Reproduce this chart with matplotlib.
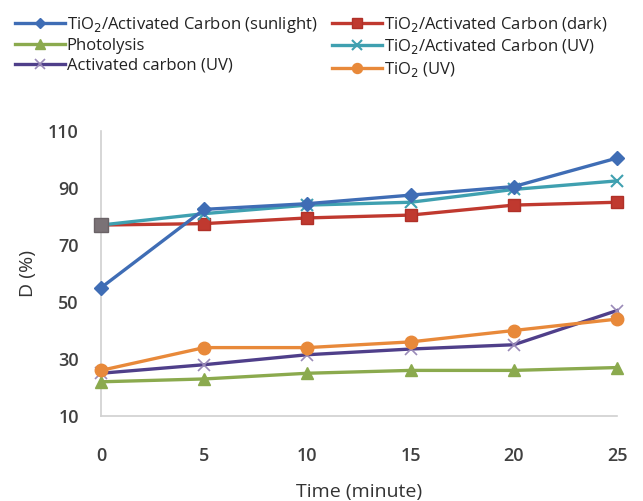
import matplotlib
matplotlib.use("Agg")
import matplotlib.pyplot as plt

plt.rcParams['font.family'] = ['Open Sans', 'DejaVu Sans']

time = [0, 5, 10, 15, 20, 25]
sunlight = [55, 82.5, 84.5, 87.5, 90.5, 100.5]
dark = [77, 77.5, 79.5, 80.5, 84, 85]
photolysis = [22, 23, 25, 26, 26, 27]
tio2_ac_uv = [77, 81, 84, 85, 89.5, 92.5]
ac_uv = [25, 28, 31.5, 33.5, 35, 47]
tio2_uv = [26, 34, 34, 36, 40, 44]

yticks = [10, 30, 50, 70, 90, 110]
xticks = [0, 5, 10, 15, 20, 25]

fig = plt.figure(figsize=(6.43, 5.01), dpi=100)
ax = fig.add_axes([101/643, 1-416/501, (617-101)/643, (416-131)/501])

lw = 2.4
h_sun, = ax.plot(time, sunlight, color='#3F6DB5', marker='D', ms=7, lw=lw, clip_on=False, zorder=6,
                 label='TiO$_2$/Activated Carbon (sunlight)')
h_dark, = ax.plot(time, dark, color='#C0392F', marker='s', ms=9, lw=lw, clip_on=False, zorder=4,
                  mec='#B03028', label='TiO$_2$/Activated Carbon (dark)')
ax.plot(time[:1], dark[:1], ls='none', marker='s', ms=10, color='#7A7276', mec='#6A6266', clip_on=False, zorder=7)
h_pho, = ax.plot(time, photolysis, color='#8BAA4E', marker='^', ms=9, lw=lw, clip_on=False, zorder=4,
                 label='Photolysis')
h_tuv, = ax.plot(time, tio2_ac_uv, color='#3FA0B0', marker='x', ms=9, mew=1.5, lw=lw, clip_on=False, zorder=5,
                 label='TiO$_2$/Activated Carbon (UV)')
h_ac, = ax.plot(time, ac_uv, color='#4F3F8A', marker='x', ms=9, mew=1.2, mec='#9A8AB8', lw=lw, clip_on=False, zorder=4,
                label='Activated carbon (UV)')
h_tio, = ax.plot(time, tio2_uv, color='#E8893A', marker='o', ms=9, lw=lw, clip_on=False, zorder=5,
                 label='TiO$_2$ (UV)')

ax.set_xlim(0, 25)
ax.set_ylim(10, 110)
ax.set_xticks(xticks)
ax.set_yticks(yticks)
ax.tick_params(length=0, labelsize=13, labelcolor='#404040')
ax.tick_params(axis='x', pad=22)
ax.tick_params(axis='y', pad=16)
for lab in ax.get_xticklabels() + ax.get_yticklabels():
    lab.set_fontweight('semibold')
for s in ['top', 'right']:
    ax.spines[s].set_visible(False)
for s in ['left', 'bottom']:
    ax.spines[s].set_color('#D0D0D0')
    ax.spines[s].set_linewidth(1.2)

ax.set_xlabel('Time (minute)', fontsize=14, color='#333333', labelpad=13)
ax.set_ylabel('D (%)', fontsize=14, color='#333333', labelpad=8)

handles = [h_sun, h_pho, h_ac, h_dark, h_tuv, h_tio]
leg = fig.legend(handles=handles, ncol=2, loc='upper left', bbox_to_anchor=(0.0, 1.0),
                 frameon=False, fontsize=12, handlelength=3.0, handletextpad=0.1,
                 columnspacing=0.9, labelspacing=0.2, borderaxespad=0.5, markerscale=0.8)
for t in leg.get_texts():
    t.set_color('#222222')

fig.savefig('out.png', dpi=100)
